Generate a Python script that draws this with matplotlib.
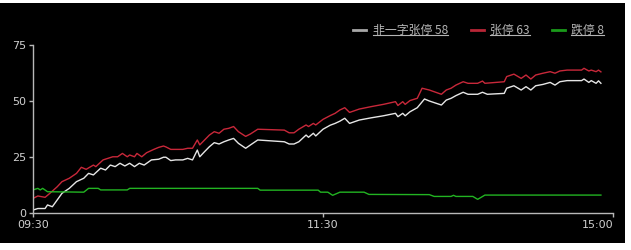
import matplotlib
matplotlib.use("Agg")
import matplotlib.pyplot as plt
from matplotlib.patches import Rectangle
from matplotlib.lines import Line2D

# minutes since 09:30 on the trading clock (lunch break squeezed out, 240 = 15:00)
t_white = [0, 2, 5, 6, 8, 10, 12, 15, 18, 21, 23, 25, 28, 30, 32, 34, 36, 38, 40, 42,
           44, 46, 49, 52, 54, 55, 57, 59, 62, 64, 66, 68, 69, 71, 73, 75, 77, 79, 81, 83,
           85, 88, 90, 93, 104, 106, 108, 110, 113, 114, 116, 117, 120, 123, 125, 127, 129,
           131, 135, 140, 145, 150, 151, 153, 154, 156, 159, 162, 164, 169, 171, 173, 175,
           178, 180, 184, 186, 188, 195, 196, 199, 202, 204, 206, 208, 211, 214, 216, 218,
           221, 227, 228, 230, 231, 233, 234, 235]
white = [1.3, 2, 2, 3.6, 2.8, 5.8, 8.8, 11, 14, 15.5, 17.7, 17, 20, 19.2, 21.4, 20.7, 22.2,
         21, 22.2, 20.7, 22.2, 21.4, 23.7, 24, 24.9, 24.9, 23.4, 23.7, 23.7, 24.4, 23.7, 28.1,
         25.1, 27.4, 29.6, 31.4, 30.8, 31.8, 32.6, 33.3, 31.1, 28.9, 30.4, 32.6, 31.8, 30.8,
         30.8, 31.8, 34.8, 33.8, 35.6, 34.4, 37.4, 39.2, 40, 41, 42.3, 40, 41.5, 42.5, 43.4,
         44.5, 43, 44.5, 43.4, 45.2, 47, 50.9, 50, 48.2, 50.4, 51.2, 52.4, 53.9, 53, 53, 53.9,
         53, 53.4, 55.7, 56.8, 54.9, 56.4, 54.9, 56.8, 57.4, 58.3, 57.1, 58.6, 59.1, 59.1,
         59.8, 58.3, 59.1, 57.9, 59, 57.9]

t_red = [0, 2, 5, 7, 10, 12, 15, 18, 20, 22, 25, 26, 29, 31, 33, 35, 37, 39, 40, 42, 43,
         45, 47, 50, 52, 54, 55, 57, 59, 62, 64, 66, 68, 69, 71, 73, 75, 77, 79, 81, 83, 85,
         88, 90, 93, 104, 106, 108, 110, 113, 114, 116, 117, 120, 123, 125, 127, 129, 131,
         135, 140, 145, 150, 151, 153, 154, 156, 159, 161, 164, 169, 171, 173, 175, 178, 180,
         184, 186, 187, 195, 196, 199, 202, 204, 206, 208, 211, 214, 216, 218, 221, 227, 228,
         230, 231, 233, 234, 235]
red = [6.5, 7.6, 7, 8.8, 11.7, 14, 15.5, 17.7, 20.4, 19.5, 21.4, 20.7, 23.7, 24.4, 25.1,
       25.1, 26.6, 25.1, 25.9, 25.1, 26.6, 25.1, 26.9, 28.4, 29.3, 29.9, 29.5, 28.4, 28.4,
       28.4, 28.9, 28.9, 32.6, 30.4, 32.6, 34.8, 36.3, 35.6, 37.4, 37.8, 38.6, 36.3, 34.2,
       35.3, 37.4, 37, 35.8, 35.8, 37.4, 39.3, 38.6, 40, 39.3, 41.8, 43.5, 44.5, 46, 47,
       44.9, 46.4, 47.5, 48.5, 49.7, 48, 49.7, 48.5, 50.2, 51.2, 55.7, 54.9, 53, 54.9, 55.7,
       57.1, 58.6, 57.9, 57.9, 58.9, 57.9, 58.6, 60.9, 62, 60.1, 61.6, 59.8, 61.6, 62.4,
       63.1, 62.4, 63.4, 63.8, 63.8, 64.6, 63.4, 63.8, 63.1, 63.8, 63]

t_green = [0, 2, 3, 4, 6, 21, 23, 27, 28, 39, 40, 93, 94, 118, 119, 122, 124, 127, 137,
           139, 164, 166, 173, 174, 175, 182, 184, 187, 235]
green = [10.3, 11, 10.3, 11, 9.5, 9.3, 11, 11, 10.3, 10.3, 11, 11, 10.2, 10.2, 9.3, 9.3,
         7.9, 9.3, 9.3, 8.3, 8.2, 7.4, 7.4, 7.9, 7.4, 7.4, 6.1, 8.0, 8.0]

names = ["非一字张停", "张停", "跌停"]
counts = [58, 63, 8]
colors = ["#e6e6e6", "#c8283a", "#22b422"]
handle_colors = ["#a8a8a8", "#b82636", "#1a9a1a"]

xticks = [0, 120, 240]
xlabels = ["09:30", "11:30", "15:00"]
yticks = [0, 25, 50, 75]

W, H = 631, 250
fig = plt.figure(figsize=(W / 100, H / 100), dpi=100, facecolor="white")
fig.patches.append(Rectangle((0, 7 / H), 625 / W, 240 / H, transform=fig.transFigure,
                             facecolor="black", edgecolor="none", zorder=-5))

ax = fig.add_axes([33 / W, 37 / H, 580 / W, 168 / H])
ax.set_zorder(2)
ax.set_facecolor("black")
ax.plot(t_white, white, color=colors[0], lw=1)
ax.plot(t_red, red, color=colors[1], lw=1)
ax.plot(t_green, green, color=colors[2], lw=1)

ax.set_xlim(0, 240)
ax.set_ylim(0, 75)
ax.set_xticks(xticks)
ax.set_xticklabels(xlabels)
ax.get_xticklabels()[-1].set_ha("right")
ax.set_yticks(yticks)
for s in ["top", "right"]:
    ax.spines[s].set_visible(False)
for s in ["left", "bottom"]:
    ax.spines[s].set_color("#b8b8b8")
    ax.spines[s].set_linewidth(1)
ax.tick_params(colors="#b8b8b8", labelcolor="#d0d0d0", labelsize=8, length=3, width=1, pad=2)

# legend drawn by hand: short line, underlined label
handle_x = [353, 471, 552]
text_x = [373, 490, 571]
texts = []
for i in range(3):
    fig.add_artist(Line2D([handle_x[i] / W, (handle_x[i] + 13) / W], [(H - 29.5) / H] * 2,
                          color=handle_colors[i], lw=2, transform=fig.transFigure, zorder=3))
    t = fig.text(text_x[i] / W, (H - 33.5) / H, f"{names[i]} {counts[i]}", color="#b4b4b4",
                 fontsize=8.6, family=["Noto Sans CJK SC", "DejaVu Sans"], va="baseline",
                 zorder=3)
    texts.append(t)

fig.canvas.draw()
r = fig.canvas.get_renderer()
for t in texts:
    bb = t.get_window_extent(r)
    fig.add_artist(Line2D([bb.x0 / W, bb.x1 / W], [(H - 35) / H] * 2, color="#b4b4b4",
                          lw=0.8, transform=fig.transFigure, zorder=3))

fig.savefig("out.png", dpi=100, facecolor=fig.get_facecolor())
